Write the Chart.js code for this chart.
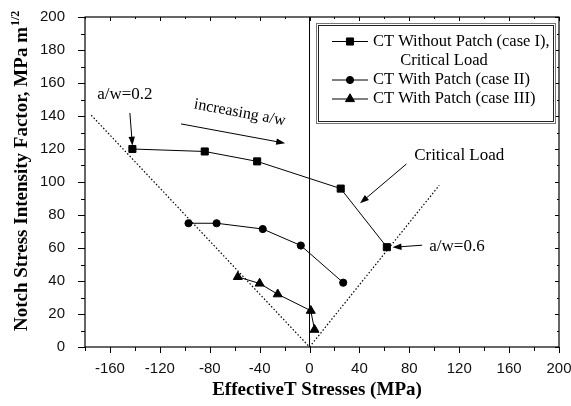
<!DOCTYPE html>
<html>
<head>
<meta charset="utf-8">
<script src="https://cdn.jsdelivr.net/npm/chart.js@4/dist/chart.umd.min.js"></script>
<style>
  html, body { margin: 0; padding: 0; background: #fff; }
  #wrap { width: 571px; height: 406px; }
</style>
</head>
<body>
<div id="wrap"><canvas id="kChart" width="571" height="406"></canvas></div>
<script>
// effective T-stress (MPa) vs notch stress intensity factor (MPa m^1/2)
const case1X = [-142, -84, -42, 25, 62];
const case1Y = [120, 118.5, 112.5, 96, 60.5];
const case2X = [-97, -74.5, -37.5, -7, 27];
const case2Y = [75, 75, 71.5, 61.5, 39];
const case3X = [-57.5, -40, -25.5, 1, 4];
const case3Y = [42.5, 38.5, 32, 22, 10.5];

// dotted limit lines and the T = 0 line
const limitX = [-175, 0, 104];
const limitY = [140.5, 0, 98];
const zeroX = [0, 0];
const zeroY = [0, 200];

// labelled ticks
const xTicks = [-160, -120, -80, -40, 0, 40, 80, 120, 160, 200];
const yTicks = [0, 20, 40, 60, 80, 100, 120, 140, 160, 180, 200];

const legendNames = ['CT Without Patch (case I),', 'CT With Patch (case II)', 'CT With Patch (case III)'];

// notes on the plot, anchored in data units
const noteText = ['a/w=0.2', 'increasing a/w', 'Critical Load', 'a/w=0.6'];
const noteX = [-148, -56, 120, 96];
const noteY = [153, 142, 116, 60.7];
// arrows: [x0, y0, x1, y1] in data units, head at the second point
const arrows = [
  [-144, 141.8, -142, 122],
  [-103, 135.2, -19.5, 123.5],
  [77.7, 110.9, 40.5, 87.1],
  [90.3, 61.7, 66.5, 60.4]
];

function pts(xs, ys) {
  return xs.map((x, i) => ({ x: x, y: ys[i] }));
}

function arrow(ctx, x0, y0, x1, y1) {
  const a = Math.atan2(y1 - y0, x1 - x0);
  const len = 9, half = 3.2;
  ctx.beginPath();
  ctx.moveTo(x0, y0);
  ctx.lineTo(x1 - Math.cos(a) * len * 0.8, y1 - Math.sin(a) * len * 0.8);
  ctx.stroke();
  ctx.beginPath();
  ctx.moveTo(x1, y1);
  ctx.lineTo(x1 - Math.cos(a) * len + Math.sin(a) * half, y1 - Math.sin(a) * len - Math.cos(a) * half);
  ctx.lineTo(x1 - Math.cos(a) * len - Math.sin(a) * half, y1 - Math.sin(a) * len + Math.cos(a) * half);
  ctx.closePath();
  ctx.fill();
}

const serif = '"Liberation Serif", "Times New Roman", serif';

const decorations = {
  id: 'decorations',
  afterDraw(chart) {
    const ctx = chart.ctx;
    const a = chart.chartArea;
    const xs = chart.scales.x, ys = chart.scales.y;
    ctx.save();
    ctx.strokeStyle = '#000';
    ctx.fillStyle = '#000';

    // frame
    ctx.lineWidth = 1.2;
    ctx.strokeRect(a.left, a.top, a.right - a.left, a.bottom - a.top);

    // ticks: outward on bottom/left, inward on top/right
    ctx.lineWidth = 1;
    ctx.beginPath();
    xs.ticks.forEach(t => {
      const px = Math.round(xs.getPixelForValue(t.value)) + 0.5;
      const major = xTicks.includes(t.value);
      ctx.moveTo(px, a.bottom);
      ctx.lineTo(px, a.bottom + (major ? 6 : 4));
      ctx.moveTo(px, a.top);
      ctx.lineTo(px, a.top + (major ? 4 : 2));
    });
    ys.ticks.forEach(t => {
      const py = Math.round(ys.getPixelForValue(t.value)) + 0.5;
      const major = yTicks.includes(t.value);
      ctx.moveTo(a.left, py);
      ctx.lineTo(a.left - (major ? 7 : 4), py);
      ctx.moveTo(a.right, py);
      ctx.lineTo(a.right - (major ? 4 : 2), py);
    });
    ctx.stroke();

    // legend box (double border)
    const lx = 316, ly = 23, lw = 239, lh = 100;
    ctx.fillStyle = '#fff';
    ctx.fillRect(lx, ly, lw, lh);
    ctx.strokeStyle = '#777';
    ctx.strokeRect(lx + 0.5, ly + 0.5, lw, lh);
    ctx.strokeStyle = '#222';
    ctx.strokeRect(lx + 2.5, ly + 2.5, lw - 4, lh - 4);

    ctx.fillStyle = '#000';
    ctx.strokeStyle = '#000';
    ctx.font = '16.5px ' + serif;
    ctx.textBaseline = 'middle';
    const rowY = [41.5, 80, 99];
    chart.data.datasets.slice(0, 3).forEach((ds, i) => {
      const y = rowY[i];
      ctx.lineWidth = 1;
      ctx.beginPath();
      ctx.moveTo(332, y);
      ctx.lineTo(368, y);
      ctx.stroke();
      Chart.helpers.drawPoint(ctx, {
        pointStyle: ds.pointStyle, radius: ds.pointRadius, rotation: 0, borderWidth: 1
      }, 350, y);
      ctx.fillStyle = '#000';
      ctx.textAlign = 'left';
      ctx.fillText(legendNames[i], 373, y);
    });
    ctx.textAlign = 'center';
    ctx.fillText('Critical Load', 444, 61);

    // notes and arrows
    ctx.lineWidth = 1;
    arrows.forEach(r => {
      arrow(ctx, xs.getPixelForValue(r[0]), ys.getPixelForValue(r[1]),
        xs.getPixelForValue(r[2]), ys.getPixelForValue(r[3]));
    });
    noteText.forEach((t, i) => {
      const px = xs.getPixelForValue(noteX[i]);
      const py = ys.getPixelForValue(noteY[i]);
      ctx.save();
      ctx.translate(px, py);
      if (i === 1) {
        ctx.rotate(10.5 * Math.PI / 180);
        ctx.font = '16px ' + serif;
      } else {
        ctx.font = '17px ' + serif;
      }
      ctx.textAlign = i === 3 ? 'left' : 'center';
      ctx.textBaseline = 'middle';
      ctx.fillText(t, 0, 0);
      ctx.restore();
    });

    // axis titles
    ctx.font = 'bold 19px ' + serif;
    ctx.textAlign = 'center';
    ctx.textBaseline = 'alphabetic';
    ctx.fillText('EffectiveT Stresses (MPa)', 317, 395);

    ctx.save();
    ctx.translate(27, 331);
    ctx.rotate(-Math.PI / 2);
    ctx.textAlign = 'left';
    const main = 'Notch Stress Intensity Factor, MPa m';
    ctx.fillText(main, 0, 0);
    const w = ctx.measureText(main).width;
    ctx.font = 'bold 12px ' + serif;
    ctx.fillText('1/2', w + 1, -8);
    ctx.restore();

    ctx.restore();
  }
};

const marker = { borderColor: '#000', backgroundColor: '#000', borderWidth: 1, showLine: true, fill: false };

new Chart(document.getElementById('kChart'), {
  type: 'scatter',
  data: {
    datasets: [
      Object.assign({ label: legendNames[0], data: pts(case1X, case1Y), pointStyle: 'rect', pointRadius: 5 }, marker),
      Object.assign({ label: legendNames[1], data: pts(case2X, case2Y), pointStyle: 'circle', pointRadius: 3.6 }, marker),
      Object.assign({ label: legendNames[2], data: pts(case3X, case3Y), pointStyle: 'triangle', pointRadius: 5.2 }, marker),
      { label: 'limit', data: pts(limitX, limitY), showLine: true, pointRadius: 0,
        borderColor: '#000', borderWidth: 1.2, borderDash: [1.5, 2] },
      { label: 'T=0', data: pts(zeroX, zeroY), showLine: true, pointRadius: 0,
        borderColor: '#000', borderWidth: 1 }
    ]
  },
  options: {
    responsive: false,
    animation: false,
    layout: { padding: { top: 17, right: 12, left: 0, bottom: 0 } },
    plugins: { legend: { display: false }, tooltip: { enabled: false } },
    scales: {
      x: {
        min: -180, max: 200,
        grid: { display: false },
        border: { display: false },
        afterFit: s => { s.height = 59; s.paddingLeft = 0; s.paddingRight = 0; },
        ticks: {
          stepSize: 20, autoSkip: false, maxRotation: 0, padding: 5,
          color: '#111',
          font: { family: '"Liberation Sans", Arial, sans-serif', size: 15 },
          callback: v => xTicks.includes(v) ? String(v) : ''
        }
      },
      y: {
        min: 0, max: 200,
        grid: { display: false },
        border: { display: false },
        afterFit: s => { s.width = 85; s.paddingTop = 0; s.paddingBottom = 0; },
        ticks: {
          stepSize: 10, autoSkip: false, padding: 12,
          color: '#111',
          font: { family: '"Liberation Sans", Arial, sans-serif', size: 15 },
          callback: v => yTicks.includes(v) ? String(v) : ''
        }
      }
    }
  },
  plugins: [decorations]
});
</script>
</body>
</html>
